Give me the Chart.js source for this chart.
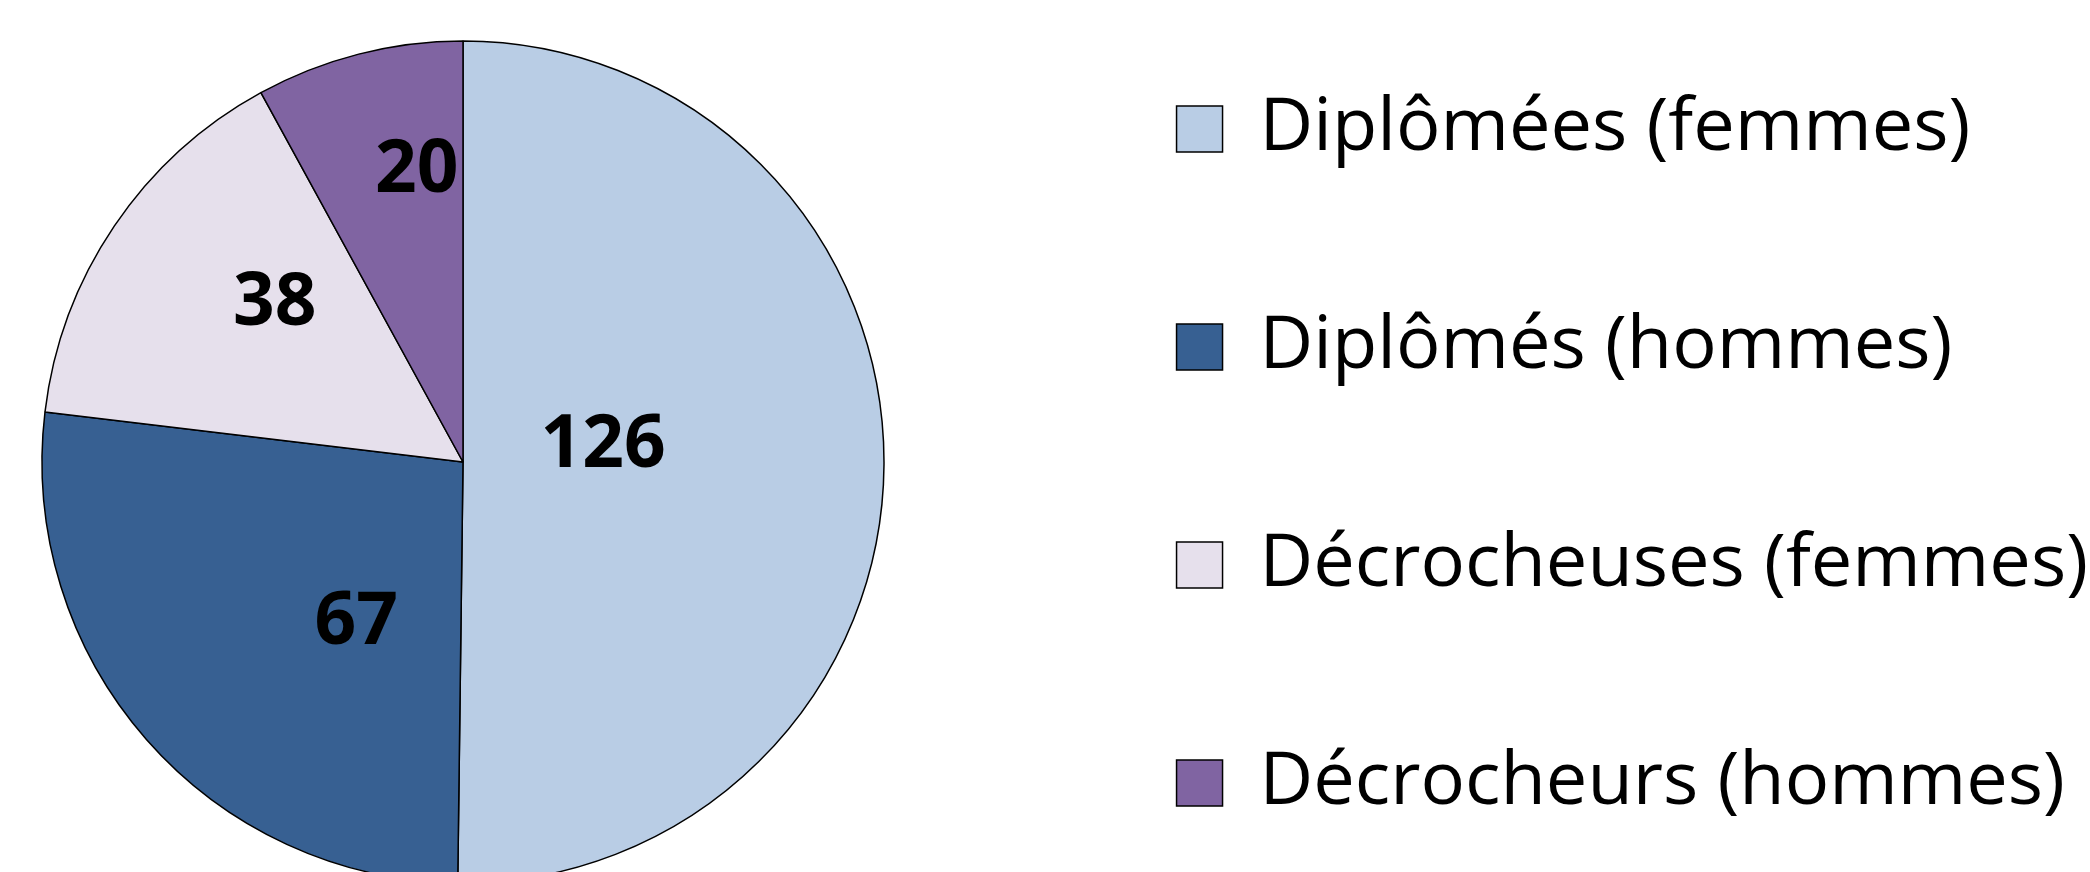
<!DOCTYPE html>
<html lang="fr">
<head>
<meta charset="utf-8">
<script src="https://cdn.jsdelivr.net/npm/chart.js@4.4.1/dist/chart.umd.min.js"></script>
<style>
  html, body { margin: 0; padding: 0; background: #fff; overflow: hidden; width: 2090px; height: 872px; }
  /* the canvas is a bit bigger than the page: the pie runs off the bottom like in the original */
  #wrap { position: absolute; left: -112px; top: -52px; width: 2210px; height: 1028px; }
</style>
</head>
<body>
<div id="wrap"><canvas id="chart"></canvas></div>
<script>
const categories = ['Diplômées (femmes)', 'Diplômés (hommes)', 'Décrocheuses (femmes)', 'Décrocheurs (hommes)'];
const values = [126, 67, 38, 20];
const colors = ['#B9CDE5', '#376092', '#E6E0EC', '#8064A2'];

// where each number sits in its slice: share of the radius, and turn (deg) from the slice middle
const labelRadius = [0.337, 0.447, 0.593, 0.714];
const labelShift = [-9.2, -14.2, 7.0, 5.5];

const FONT = '"Open Sans", "Noto Sans", sans-serif';
const offsetX = 112;          // canvas starts this far left of the page
const legendPad = 144;
const pieCenterX = 463 + offsetX;

const sliceLabels = {
  id: 'sliceLabels',
  afterDatasetsDraw(chart) {
    const ctx = chart.ctx;
    const arcs = chart.getDatasetMeta(0).data;
    ctx.save();
    ctx.font = 'bold 73px ' + FONT;
    ctx.fillStyle = '#000';
    ctx.textAlign = 'center';
    ctx.textBaseline = 'alphabetic';
    arcs.forEach((arc, i) => {
      const p = arc.getProps(['x', 'y', 'startAngle', 'endAngle', 'outerRadius'], true);
      const a = (p.startAngle + p.endAngle) / 2 + labelShift[i] * Math.PI / 180;
      const r = p.outerRadius * labelRadius[i];
      const txt = String(values[i]);
      const m = ctx.measureText(txt);
      ctx.fillText(txt, p.x + Math.cos(a) * r, p.y + Math.sin(a) * r + m.actualBoundingBoxAscent / 2);
    });
    ctx.restore();
  }
};

function build() {
  const chart = new Chart(document.getElementById('chart'), {
    type: 'pie',
    data: {
      labels: categories,
      datasets: [{
        data: values,
        backgroundColor: colors,
        borderColor: '#000',
        borderWidth: 1.5,
        radius: 421
      }]
    },
    options: {
      responsive: true,
      maintainAspectRatio: false,
      animation: false,
      events: [],
      layout: {
        padding: { left: 0, right: 0, top: 0, bottom: 0 }
      },
      plugins: {
        tooltip: { enabled: false },
        legend: {
          position: 'right',
          align: 'start',
          labels: {
            boxWidth: 46,
            boxHeight: 46,
            padding: legendPad,
            color: '#000',
            font: { family: FONT, size: 74 }
          }
        }
      }
    },
    plugins: [sliceLabels]
  });

  // recentre the pie under the original's centre
  const c = chart.chartArea;
  const shift = 2 * (pieCenterX - (c.left + c.right) / 2);
  if (shift > 1) {
    chart.options.layout.padding.left += shift;
    chart.update('none');
  }
}

Promise.all([
  document.fonts.load('74px "Open Sans"'),
  document.fonts.load('bold 73px "Open Sans"')
]).then(build, build);
</script>
</body>
</html>
